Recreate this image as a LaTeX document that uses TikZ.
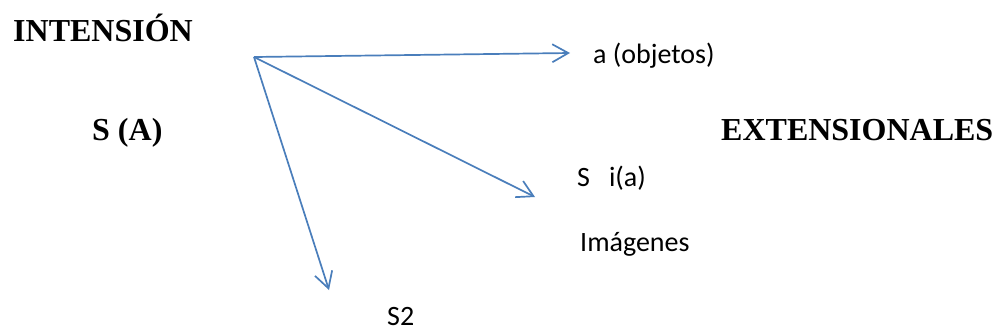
\documentclass[tikz,border=0pt]{standalone}
\usepackage{fontspec}
\setmainfont{Liberation Serif}
\newfontfamily\calibri{Carlito}
\usetikzlibrary{arrows.meta}
\definecolor{linkblue}{RGB}{74,126,187}
\tikzset{
  heading/.style={anchor=base west, inner sep=0pt, font=\fontsize{32}{38}\selectfont\bfseries},
  label/.style={anchor=base west, inner sep=0pt, font=\calibri\fontsize{28}{34}\selectfont},
  mapping/.style={draw=linkblue, line width=1.7pt,
    -{Straight Barb[length=16pt, width=18pt, line width=1.7pt]}}
}
\begin{document}
\begin{tikzpicture}[x=1pt, y=-1pt]
  \useasboundingbox (0,0) rectangle (995,333);

  % headings
  \node[heading] (intension) at (13,41) {INTENSIÓN};
  \node[heading] (sA) at (92,140) {S (A)};
  \node[heading] (ext) at (721,140) {EXTENSIONALES};

  % labels at the arrow ends
  \node[label] (objetos) at (593,63) {a (objetos)};
  \node[label] (sia) at (577,186) {S\ \ \ i(a)};
  \node[label] (imag) at (580,251) {Imágenes};
  \node[label] (s2) at (387,325) {S2};

  % common origin and arrow ends
  \coordinate (o) at (254,57);
  \coordinate (tipA) at (570,53);
  \coordinate (tipB) at (535,197);
  \coordinate (tipC) at (329,290);

  \draw[mapping] (o) -- (tipA);
  \draw[mapping] (o) -- (tipB);
  \draw[mapping] (o) -- (tipC);
\end{tikzpicture}
\end{document}
